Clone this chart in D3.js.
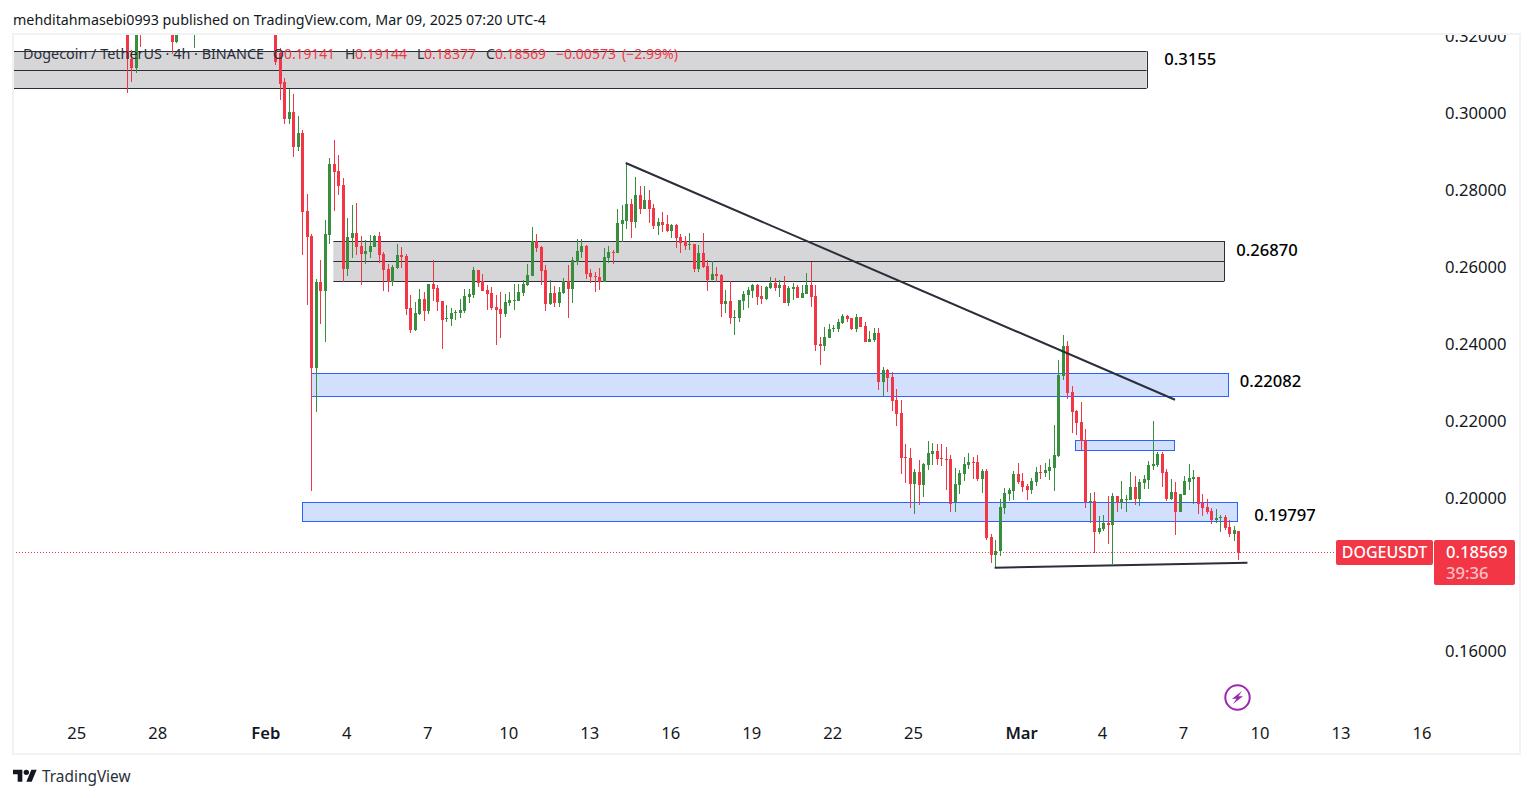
<!DOCTYPE html>
<html>
<head>
<meta charset="utf-8">
<title>DOGEUSDT</title>
<script src="https://cdn.jsdelivr.net/npm/d3@7/dist/d3.min.js"></script>
<style>
html,body{margin:0;padding:0;background:#fff;overflow:hidden}
svg{display:block}
text{font-family:"Noto Sans",sans-serif}
</style>
</head>
<body>
<div id="chart"></div>
<script>
// Candle slots are 4h bars counted from Feb 1. Bars between the first few slots lie above the visible range.
const slots = [-31,-30,-29,-28,-21,-20,-16,0,1,2].concat(d3.range(3,217));

const opens = [
0.3217,0.3142,0.3118,0.3230,0.3217,0.3186,0.3212,0.3240,0.3240,0.3215,
0.3157,0.3082,0.2986,0.3004,0.2913,0.2949,0.2746,0.2681,0.2338,0.2562,
0.2538,0.2684,0.2869,0.2850,0.2814,0.2596,0.2676,0.2689,0.2655,0.2635,
0.2640,0.2653,0.2681,0.2635,0.2596,0.2562,0.2598,0.2632,0.2629,0.2494,
0.2437,0.2479,0.2518,0.2486,0.2557,0.2546,0.2512,0.2466,0.2466,0.2481,
0.2481,0.2486,0.2523,0.2528,0.2593,0.2564,0.2541,0.2533,0.2497,0.2492,
0.2479,0.2507,0.2512,0.2512,0.2533,0.2554,0.2577,0.2668,0.2653,0.2593,
0.2505,0.2533,0.2507,0.2533,0.2564,0.2544,0.2614,0.2640,0.2655,0.2585,
0.2577,0.2575,0.2562,0.2624,0.2640,0.2637,0.2713,0.2720,0.2765,0.2718,
0.2788,0.2752,0.2775,0.2754,0.2707,0.2718,0.2713,0.2694,0.2710,0.2679,
0.2668,0.2658,0.2661,0.2596,0.2637,0.2603,0.2567,0.2583,0.2580,0.2505,
0.2512,0.2468,0.2468,0.2512,0.2528,0.2538,0.2554,0.2525,0.2518,0.2546,
0.2559,0.2546,0.2554,0.2507,0.2544,0.2549,0.2520,0.2531,0.2554,0.2525,
0.2401,0.2395,0.2416,0.2440,0.2440,0.2455,0.2473,0.2468,0.2440,0.2471,
0.2447,0.2406,0.2411,0.2429,0.2302,0.2333,0.2315,0.2255,0.2221,0.2107,
0.2104,0.2036,0.2068,0.2034,0.2086,0.2114,0.2122,0.2104,0.2101,0.2101,
0.1990,0.2034,0.2062,0.2086,0.2094,0.2094,0.2049,0.2070,0.1899,0.1852,
0.1860,0.1974,0.2010,0.2018,0.2062,0.2044,0.2031,0.2021,0.2042,0.2068,
0.2065,0.2070,0.2078,0.2109,0.2317,0.2395,0.2276,0.2226,0.2198,0.2151,
0.1990,0.1992,0.1912,0.1919,0.1935,0.1930,0.2005,0.1987,0.1995,0.1995,
0.2029,0.1997,0.2039,0.2047,0.2083,0.2086,0.2114,0.2068,0.1997,0.2016,
0.1964,0.2008,0.2042,0.2049,0.2055,0.1987,0.1977,0.1966,0.1943,0.1948,
0.1951,0.1925,0.1906,0.19141];

const highs = [
0.3230,0.3165,0.3230,0.3240,0.3235,0.3225,0.3235,0.3250,0.3250,0.3230,
0.3170,0.3092,0.3064,0.3051,0.2994,0.2957,0.2791,0.2687,0.2570,0.2619,
0.2723,0.2884,0.2931,0.2892,0.2832,0.2728,0.2762,0.2767,0.2681,0.2671,
0.2684,0.2684,0.2692,0.2640,0.2609,0.2606,0.2661,0.2653,0.2635,0.2528,
0.2510,0.2544,0.2536,0.2557,0.2619,0.2554,0.2512,0.2502,0.2494,0.2489,
0.2518,0.2544,0.2544,0.2601,0.2593,0.2583,0.2554,0.2549,0.2528,0.2536,
0.2531,0.2536,0.2557,0.2557,0.2567,0.2609,0.2705,0.2687,0.2655,0.2606,
0.2567,0.2551,0.2549,0.2572,0.2606,0.2627,0.2674,0.2674,0.2658,0.2596,
0.2588,0.2598,0.2650,0.2655,0.2645,0.2752,0.2762,0.2869,0.2778,0.2835,
0.2811,0.2811,0.2801,0.2765,0.2728,0.2744,0.2736,0.2713,0.2713,0.2687,
0.2681,0.2689,0.2661,0.2658,0.2689,0.2619,0.2616,0.2601,0.2583,0.2541,
0.2564,0.2489,0.2515,0.2538,0.2549,0.2557,0.2557,0.2551,0.2551,0.2575,
0.2572,0.2567,0.2577,0.2551,0.2559,0.2554,0.2554,0.2585,0.2614,0.2554,
0.2419,0.2445,0.2453,0.2450,0.2466,0.2479,0.2476,0.2468,0.2479,0.2471,
0.2458,0.2434,0.2442,0.2442,0.2341,0.2335,0.2328,0.2283,0.2255,0.2141,
0.2130,0.2075,0.2099,0.2091,0.2148,0.2143,0.2140,0.2140,0.2133,0.2112,
0.2078,0.2073,0.2107,0.2117,0.2107,0.2112,0.2075,0.2075,0.1906,0.1891,
0.1997,0.2026,0.2026,0.2070,0.2091,0.2065,0.2036,0.2052,0.2081,0.2086,
0.2091,0.2101,0.2190,0.2359,0.2424,0.2408,0.2291,0.2229,0.2250,0.2179,
0.2013,0.2016,0.1953,0.1956,0.2005,0.2013,0.2005,0.2044,0.2008,0.2068,
0.2057,0.2049,0.2060,0.2096,0.2200,0.2120,0.2120,0.2075,0.2049,0.2042,
0.2010,0.2057,0.2088,0.2073,0.2055,0.2010,0.1997,0.1974,0.1971,0.1956,
0.1956,0.1943,0.1927,0.19144];

const lows = [
0.3054,0.3082,0.3105,0.3173,0.3155,0.3183,0.3170,0.3204,0.3204,0.3125,
0.3035,0.2973,0.2973,0.2887,0.2902,0.2632,0.2502,0.2018,0.2224,0.2453,
0.2406,0.2661,0.2746,0.2788,0.2562,0.2577,0.2624,0.2632,0.2554,0.2609,
0.2624,0.2653,0.2611,0.2538,0.2536,0.2551,0.2596,0.2598,0.2476,0.2429,
0.2434,0.2476,0.2460,0.2479,0.2512,0.2486,0.2388,0.2458,0.2447,0.2463,
0.2468,0.2481,0.2507,0.2520,0.2549,0.2538,0.2489,0.2489,0.2398,0.2416,
0.2471,0.2499,0.2489,0.2512,0.2525,0.2551,0.2577,0.2640,0.2554,0.2486,
0.2502,0.2497,0.2497,0.2531,0.2468,0.2507,0.2606,0.2624,0.2570,0.2559,
0.2536,0.2541,0.2562,0.2611,0.2609,0.2637,0.2666,0.2700,0.2676,0.2702,
0.2739,0.2752,0.2715,0.2700,0.2684,0.2692,0.2692,0.2676,0.2650,0.2637,
0.2645,0.2645,0.2588,0.2588,0.2598,0.2538,0.2567,0.2562,0.2471,0.2481,
0.2453,0.2424,0.2458,0.2489,0.2494,0.2520,0.2502,0.2505,0.2515,0.2544,
0.2538,0.2523,0.2507,0.2499,0.2515,0.2520,0.2520,0.2531,0.2497,0.2382,
0.2346,0.2382,0.2416,0.2432,0.2432,0.2453,0.2458,0.2437,0.2432,0.2445,
0.2406,0.2406,0.2406,0.2281,0.2265,0.2276,0.2226,0.2187,0.2062,0.2039,
0.1974,0.1958,0.1982,0.2003,0.2073,0.2086,0.2086,0.2083,0.2021,0.1964,
0.1964,0.2010,0.2044,0.2075,0.2049,0.2044,0.2013,0.1891,0.1831,0.1818,
0.1847,0.1958,0.1992,0.1995,0.2036,0.2016,0.1995,0.2010,0.2031,0.2049,
0.2055,0.2047,0.2018,0.2107,0.2307,0.2257,0.2169,0.2164,0.2125,0.1974,
0.1935,0.1857,0.1906,0.1914,0.1880,0.1828,0.1964,0.1971,0.1964,0.1995,
0.1982,0.1979,0.2023,0.2023,0.2073,0.2081,0.2029,0.1992,0.1995,0.1904,
0.1964,0.2008,0.2021,0.1984,0.1958,0.1953,0.1958,0.1932,0.1935,0.1912,
0.1917,0.1899,0.1888,0.18377];

const closes = [
0.3142,0.3118,0.3217,0.3212,0.3186,0.3217,0.3225,0.3220,0.3215,0.3134,
0.3077,0.2986,0.3004,0.2913,0.2949,0.2744,0.2679,0.2338,0.2562,0.2538,
0.2687,0.2869,0.2848,0.2811,0.2596,0.2679,0.2689,0.2653,0.2635,0.2642,
0.2655,0.2681,0.2632,0.2593,0.2562,0.2601,0.2632,0.2627,0.2492,0.2437,
0.2481,0.2518,0.2486,0.2557,0.2544,0.2510,0.2463,0.2468,0.2481,0.2484,
0.2489,0.2525,0.2531,0.2593,0.2559,0.2538,0.2531,0.2494,0.2489,0.2479,
0.2510,0.2515,0.2515,0.2536,0.2557,0.2580,0.2668,0.2650,0.2590,0.2505,
0.2533,0.2507,0.2536,0.2564,0.2544,0.2619,0.2642,0.2655,0.2583,0.2575,
0.2575,0.2562,0.2627,0.2640,0.2637,0.2715,0.2723,0.2765,0.2718,0.2788,
0.2752,0.2775,0.2752,0.2707,0.2718,0.2710,0.2694,0.2710,0.2676,0.2663,
0.2655,0.2661,0.2596,0.2637,0.2601,0.2567,0.2583,0.2577,0.2505,0.2512,
0.2468,0.2471,0.2515,0.2531,0.2541,0.2554,0.2523,0.2518,0.2549,0.2559,
0.2546,0.2554,0.2507,0.2546,0.2549,0.2520,0.2533,0.2554,0.2523,0.2398,
0.2395,0.2419,0.2440,0.2442,0.2458,0.2473,0.2466,0.2440,0.2471,0.2445,
0.2406,0.2414,0.2429,0.2302,0.2333,0.2312,0.2252,0.2219,0.2104,0.2104,
0.2036,0.2068,0.2034,0.2088,0.2117,0.2122,0.2101,0.2101,0.2099,0.1984,
0.2036,0.2065,0.2088,0.2094,0.2091,0.2049,0.2070,0.1896,0.1852,0.1860,
0.1977,0.2013,0.2021,0.2062,0.2042,0.2029,0.2021,0.2044,0.2068,0.2065,
0.2073,0.2081,0.2112,0.2320,0.2395,0.2273,0.2224,0.2195,0.2148,0.1990,
0.1992,0.1912,0.1922,0.1935,0.1930,0.2005,0.1987,0.1997,0.1997,0.2029,
0.1997,0.2042,0.2049,0.2086,0.2088,0.2114,0.2065,0.1997,0.2016,0.1964,
0.2010,0.2044,0.2052,0.2055,0.1984,0.1974,0.1964,0.1943,0.1948,0.1951,
0.1922,0.1906,0.1917,0.18569];

const xTickSlots  = [-42,-24,0,18,36,54,72,90,108,126,144,168,186,204,221,239,257];
const xTickLabels = ['25','28','Feb','4','7','10','13','16','19','22','25','Mar','4','7','10','13','16'];
const yTickValues = [0.16,0.20,0.22,0.24,0.26,0.28,0.30,0.32];

// Drawn zones: slot range and price range, with the midline price of the grey ones.
const grayZones = [
  {from:-56.3,to:195.7,top:0.3162,mid:0.3113,bottom:0.3066},
  {from:14.9,to:212.9,top:0.2668,mid:0.2616,bottom:0.2563}
];
const blueZones = [
  {from:10,to:213.8,top:0.2324,bottom:0.2265},
  {from:179.8,to:201.9,top:0.2151,bottom:0.2124},
  {from:8,to:215.9,top:0.1989,bottom:0.1939}
];
const trendLines = [
  {x1:79.9,p1:0.2871,x2:202,p2:0.2255},
  {x1:161.9,p1:0.1818,x2:218.1,p2:0.1831}
];
const zoneLabels = [
  {text:'0.3155',slot:199.6,price:0.3141},
  {text:'0.26870',slot:215.6,price:0.2645},
  {text:'0.22082',slot:216.4,price:0.2304},
  {text:'0.19797',slot:219.6,price:0.1955}
];
const lastPrice = 0.18569;

const legendParts = [
  {t:'Dogecoin / TetherUS \u00b7 4h \u00b7 BINANCE',x:23,c:'#2a2e39',w:241},
  {t:'O',x:273,c:'#2a2e39'},{t:'0.19141',x:284,c:'#f23645',w:51},
  {t:'H',x:345,c:'#2a2e39'},{t:'0.19144',x:355,c:'#f23645',w:52},
  {t:'L',x:417,c:'#2a2e39'},{t:'0.18377',x:424,c:'#f23645',w:52},
  {t:'C',x:486,c:'#2a2e39'},{t:'0.18569',x:495,c:'#f23645',w:51},
  {t:'\u22120.00573',x:556,c:'#f23645',w:60},{t:'(\u22122.99%)',x:622,c:'#f23645',w:56}
];

const W = 1533, H = 798, UP = '#388e3c', DOWN = '#f23645', INK = '#131722', AXF = 16.6;
const xs = d3.scaleLinear().domain([0,216]).range([266.3,1238.0]);
const ys = d3.scaleLinear().domain([0.16,0.32]).range([651.4,36.6]);

const svg = d3.select('#chart').append('svg').attr('width',W).attr('height',H).attr('viewBox',`0 0 ${W} ${H}`);
const defs = svg.append('defs');
defs.append('clipPath').attr('id','pane').append('rect').attr('x',13).attr('y',34).attr('width',1507).attr('height',720);

svg.append('text').attr('x',13).attr('y',24.5).attr('font-size',14.2).attr('fill','#131722')
  .attr('textLength',533).attr('lengthAdjust','spacingAndGlyphs')
  .text('mehditahmasebi0993 published on TradingView.com, Mar 09, 2025 07:20 UTC-4');

const pane = svg.append('g').attr('clip-path','url(#pane)');

// zones
const lineColor = '#2a2e39';
grayZones.forEach(z=>{
  const x0=xs(z.from), x1=xs(z.to);
  pane.append('rect').attr('x',x0).attr('y',ys(z.top)).attr('width',x1-x0).attr('height',ys(z.bottom)-ys(z.top)).attr('fill','#d6d6d9');
  [z.top,z.mid,z.bottom].forEach(p=>{
    pane.append('line').attr('x1',x0).attr('x2',x1).attr('y1',Math.round(ys(p))+.5).attr('y2',Math.round(ys(p))+.5)
      .attr('stroke',lineColor).attr('stroke-width',1);
  });
  pane.append('line').attr('x1',Math.round(x1)+.5).attr('x2',Math.round(x1)+.5).attr('y1',ys(z.top)).attr('y2',ys(z.bottom)).attr('stroke',lineColor).attr('stroke-width',1);
});
blueZones.forEach(z=>{
  pane.append('rect').attr('x',Math.round(xs(z.from))+.5).attr('y',Math.round(ys(z.top))+.5)
    .attr('width',Math.round(xs(z.to)-xs(z.from))).attr('height',Math.round(ys(z.bottom)-ys(z.top)))
    .attr('fill','#d2dffd').attr('stroke','#2962ff').attr('stroke-width',1);
});

// last price dotted line
pane.append('line').attr('x1',13).attr('x2',1336).attr('y1',Math.round(ys(lastPrice))-.5).attr('y2',Math.round(ys(lastPrice))-.5)
  .attr('stroke',DOWN).attr('stroke-width',1).attr('stroke-dasharray','1 2');

// candles
const candles = slots.map((s,i)=>({s,o:opens[i],h:highs[i],l:lows[i],c:closes[i]}));
const g = pane.append('g').selectAll('g').data(candles).join('g')
  .attr('fill',d=>d.c>=d.o?UP:DOWN);
g.append('rect').attr('x',d=>Math.round(xs(d.s))).attr('width',1)
  .attr('y',d=>Math.round(ys(d.h))).attr('height',d=>Math.max(1,Math.round(ys(d.l))-Math.round(ys(d.h))));
g.append('rect').attr('x',d=>Math.round(xs(d.s))-1).attr('width',3)
  .attr('y',d=>Math.round(ys(Math.max(d.o,d.c))))
  .attr('height',d=>Math.max(1,Math.round(ys(Math.min(d.o,d.c)))-Math.round(ys(Math.max(d.o,d.c)))));

// trend lines
pane.selectAll('line.trend').data(trendLines).join('line').attr('class','trend')
  .attr('x1',d=>xs(d.x1)).attr('y1',d=>ys(d.p1)).attr('x2',d=>xs(d.x2)).attr('y2',d=>ys(d.p2))
  .attr('stroke','#2a2e39').attr('stroke-width',2);

// zone labels
pane.selectAll('text.zl').data(zoneLabels).join('text').attr('class','zl')
  .attr('x',d=>xs(d.slot)).attr('y',d=>ys(d.price)).attr('dy','0.35em')
  .attr('font-size',AXF).attr('font-weight',500).attr('fill','#000').text(d=>d.text);

// legend
svg.append('g').selectAll('text').data(legendParts).join('text')
  .attr('x',d=>d.x).attr('y',59).attr('font-size',14).attr('fill',d=>d.c)
  .attr('textLength',d=>d.w||null).attr('lengthAdjust','spacingAndGlyphs').text(d=>d.t);

// y axis
const yAxis = d3.axisRight(ys).tickValues(yTickValues).tickSize(0).tickPadding(0).tickFormat(d3.format('.5f'));
const ya = svg.append('g').attr('clip-path','url(#pane)').append('g').attr('transform','translate(1445,0)').call(yAxis);
ya.select('.domain').remove();
ya.selectAll('text').attr('font-size',AXF).attr('font-family','"Noto Sans",sans-serif').attr('fill',INK);

// x axis
const labelBySlot = new Map(xTickSlots.map((s,i)=>[s,xTickLabels[i]]));
const xAxis = d3.axisBottom(xs).tickValues(xTickSlots).tickSize(0).tickPadding(0).tickFormat(s=>labelBySlot.get(s));
const xa = svg.append('g').attr('transform','translate(-1,727.5)').call(xAxis);
xa.select('.domain').remove();
xa.selectAll('text').attr('font-size',AXF).attr('font-family','"Noto Sans",sans-serif').attr('fill',INK)
  .attr('font-weight',d=>(labelBySlot.get(d)==='Feb'||labelBySlot.get(d)==='Mar')?600:400);

// frame
svg.append('rect').attr('x',13).attr('y',34).attr('width',1507).attr('height',720)
  .attr('fill','none').attr('stroke','#f1f2f4').attr('stroke-width',2);

// price tags
svg.append('rect').attr('x',1336).attr('y',540).attr('width',97).attr('height',25).attr('rx',2).attr('fill',DOWN);
svg.append('text').attr('x',1384.5).attr('y',552.5).attr('dy','0.36em').attr('text-anchor','middle')
  .attr('font-size',16).attr('font-weight',500).attr('fill','#fff').text('DOGEUSDT');
svg.append('rect').attr('x',1434).attr('y',540).attr('width',81).attr('height',45).attr('rx',2).attr('fill',DOWN);
svg.append('text').attr('x',1446).attr('y',552.5).attr('dy','0.36em').attr('font-size',AXF).attr('font-weight',500).attr('fill','#fff')
  .text(d3.format('.5f')(lastPrice));
svg.append('text').attr('x',1446).attr('y',573).attr('dy','0.36em').attr('font-size',AXF).attr('font-weight',500).attr('fill','#fff').attr('fill-opacity',.7).text('39:36');

// lightning icon
const bolt = svg.append('g').attr('transform','translate(1237.5,697.5)');
bolt.append('circle').attr('r',12.2).attr('fill','#fff').attr('stroke','#9c27b0').attr('stroke-width',2);
bolt.append('path').attr('d','M4.5,-6.5 L-5.5,1.2 L-1,1.2 L-4.5,6.5 L5.5,-1.2 L1,-1.2 Z').attr('fill','#9c27b0');

// TradingView mark
const logo = svg.append('g').attr('transform','translate(13,767) scale(0.667)').attr('fill','#131722');
logo.append('path').attr('d','M14 22H7V11H0V4h14v18zM28 22h-8l7.5-18h8L28 22z');
logo.append('circle').attr('cx',20).attr('cy',8).attr('r',4);
svg.append('text').attr('x',42).attr('y',782).attr('font-size',15.4).attr('fill','#2a2e39').text('TradingView');
</script>
</body>
</html>
